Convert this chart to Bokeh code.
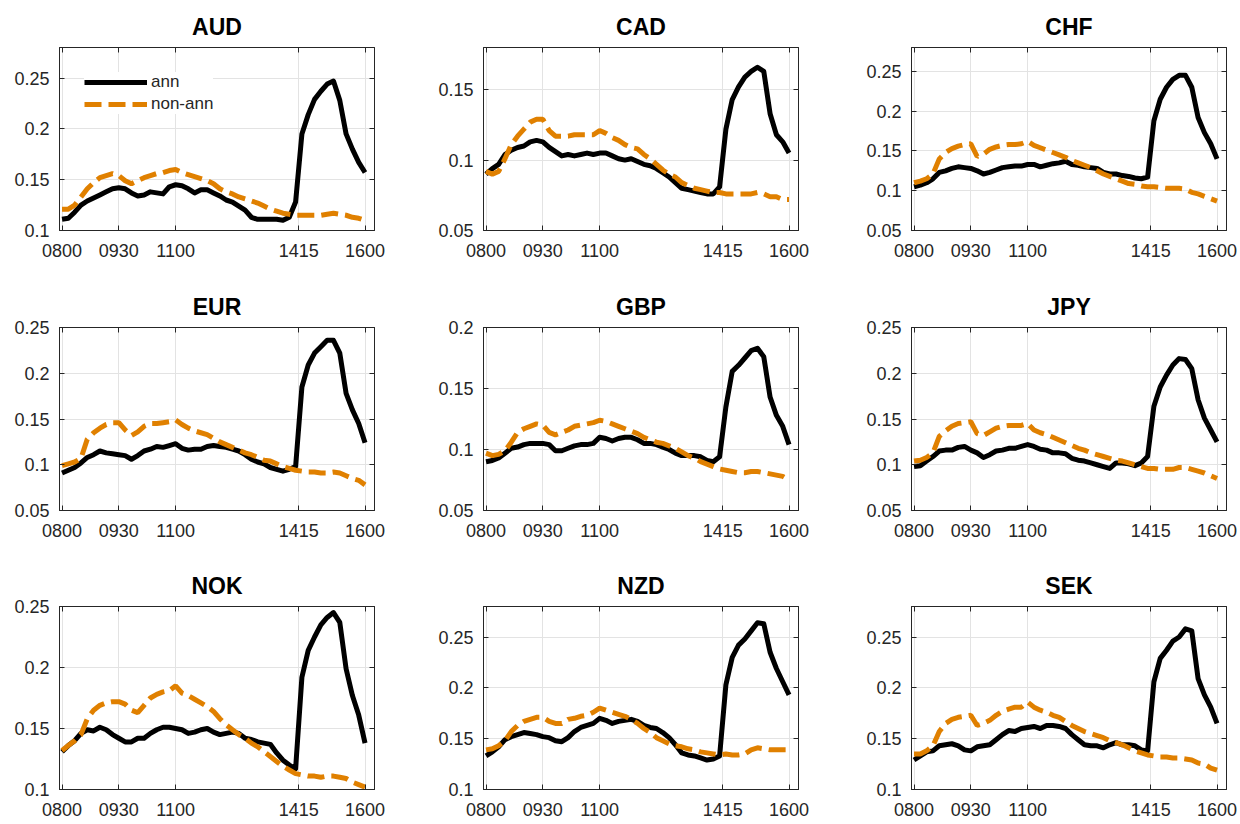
from bokeh.plotting import figure
from bokeh.layouts import row, column
from bokeh.models import FixedTicker, LinearAxis, Range1d, Legend, LegendItem
from bokeh.embed import file_html
from bokeh.resources import INLINE

# ---------------- data ----------------
TIMES = [480, 490, 500, 510, 520, 530, 540, 550, 560, 570, 580, 590, 600, 610, 620,
         630, 640, 650, 660, 670, 680, 690, 700, 710, 720, 730, 740, 750, 760, 770,
         780, 790, 800, 810, 820, 830, 840, 850, 860, 870, 880, 890, 900, 910, 920,
         930, 940, 950, 960]  # minutes after midnight

X_TICKS = [480, 570, 660, 855, 960]
X_TICK_LABELS = ["0800", "0930", "1100", "1415", "1600"]

CURRENCIES = ["AUD", "CAD", "CHF", "EUR", "GBP", "JPY", "NOK", "NZD", "SEK"]
Y_MIN = [0.10, 0.05, 0.05, 0.05, 0.05, 0.05, 0.10, 0.10, 0.10]
Y_MAX = [0.28, 0.18, 0.28, 0.25, 0.20, 0.25, 0.25, 0.28, 0.28]
Y_TICK_VALUES = [0.05, 0.1, 0.15, 0.2, 0.25]
Y_TICK_LABELS = ["0.05", "0.1", "0.15", "0.2", "0.25"]

SERIES_LABELS = ["ann", "non-ann"]

AUD_ANN = [0.111, 0.112, 0.118, 0.125, 0.129, 0.132, 0.135, 0.138, 0.141, 0.142, 0.141, 0.137, 0.134, 0.135, 0.138,
           0.137, 0.136, 0.143, 0.145, 0.144, 0.141, 0.137, 0.140, 0.140, 0.137, 0.134, 0.130, 0.128, 0.124, 0.120,
           0.113, 0.111, 0.111, 0.111, 0.111, 0.110, 0.113, 0.128, 0.195, 0.214, 0.229, 0.237, 0.244, 0.247, 0.228,
           0.195, 0.180, 0.167, 0.157]
AUD_NON = [0.121, 0.121, 0.125, 0.133, 0.141, 0.147, 0.152, 0.154, 0.156, 0.154, 0.149, 0.146, 0.149, 0.152, 0.154,
           0.156, 0.157, 0.159, 0.160, 0.157, 0.155, 0.153, 0.151, 0.149, 0.146, 0.141, 0.138, 0.136, 0.133, 0.131,
           0.129, 0.127, 0.124, 0.121, 0.119, 0.117, 0.116, 0.115, 0.115, 0.115, 0.115, 0.115, 0.116, 0.117, 0.116,
           0.115, 0.113, 0.112, 0.110]

CAD_ANN = [0.090, 0.094, 0.097, 0.104, 0.107, 0.109, 0.110, 0.113, 0.114, 0.113, 0.109, 0.106, 0.103, 0.104, 0.103,
           0.104, 0.105, 0.104, 0.105, 0.105, 0.103, 0.101, 0.100, 0.101, 0.099, 0.097, 0.096, 0.094, 0.091, 0.088,
           0.084, 0.080, 0.079, 0.078, 0.077, 0.076, 0.076, 0.081, 0.122, 0.143, 0.152, 0.159, 0.163, 0.166, 0.163,
           0.133, 0.118, 0.113, 0.105]
CAD_NON = [0.092, 0.090, 0.092, 0.101, 0.111, 0.117, 0.122, 0.127, 0.129, 0.129, 0.121, 0.117, 0.117, 0.117, 0.118,
           0.118, 0.118, 0.118, 0.121, 0.119, 0.116, 0.114, 0.111, 0.109, 0.108, 0.104, 0.101, 0.097, 0.093, 0.090,
           0.088, 0.084, 0.082, 0.080, 0.079, 0.078, 0.077, 0.077, 0.076, 0.076, 0.076, 0.076, 0.076, 0.077, 0.076,
           0.074, 0.074, 0.072, 0.072]

CHF_ANN = [0.105, 0.107, 0.110, 0.115, 0.123, 0.125, 0.128, 0.130, 0.129, 0.128, 0.125, 0.121, 0.123, 0.126, 0.129,
           0.130, 0.131, 0.131, 0.133, 0.133, 0.130, 0.132, 0.134, 0.135, 0.137, 0.133, 0.132, 0.130, 0.129, 0.128,
           0.123, 0.121, 0.121, 0.119, 0.118, 0.116, 0.115, 0.117, 0.188, 0.215, 0.230, 0.240, 0.245, 0.245, 0.230,
           0.192, 0.173, 0.159, 0.140]
CHF_NON = [0.110, 0.112, 0.115, 0.121, 0.140, 0.148, 0.153, 0.156, 0.158, 0.159, 0.143, 0.146, 0.152, 0.155, 0.157,
           0.158, 0.158, 0.159, 0.162, 0.157, 0.154, 0.151, 0.148, 0.145, 0.142, 0.138, 0.135, 0.132, 0.129, 0.125,
           0.121, 0.118, 0.115, 0.112, 0.109, 0.108, 0.106, 0.105, 0.105, 0.104, 0.103, 0.103, 0.103, 0.102, 0.098,
           0.096, 0.093, 0.090, 0.087]

EUR_ANN = [0.091, 0.094, 0.097, 0.102, 0.108, 0.111, 0.115, 0.113, 0.112, 0.111, 0.110, 0.106, 0.110, 0.115, 0.117,
           0.120, 0.119, 0.121, 0.123, 0.118, 0.116, 0.117, 0.117, 0.120, 0.121, 0.120, 0.119, 0.117, 0.115, 0.111,
           0.106, 0.103, 0.101, 0.097, 0.095, 0.093, 0.095, 0.098, 0.185, 0.209, 0.222, 0.229, 0.236, 0.236, 0.222,
           0.178, 0.160, 0.145, 0.124]
EUR_NON = [0.099, 0.101, 0.103, 0.107, 0.128, 0.135, 0.140, 0.144, 0.146, 0.146, 0.138, 0.132, 0.136, 0.142, 0.145,
           0.145, 0.146, 0.147, 0.149, 0.144, 0.140, 0.137, 0.135, 0.133, 0.129, 0.125, 0.122, 0.119, 0.116, 0.113,
           0.111, 0.108, 0.105, 0.104, 0.101, 0.098, 0.096, 0.094, 0.093, 0.092, 0.092, 0.091, 0.091, 0.092, 0.091,
           0.088, 0.085, 0.083, 0.078]

GBP_ANN = [0.090, 0.091, 0.093, 0.097, 0.101, 0.102, 0.104, 0.105, 0.105, 0.105, 0.104, 0.099, 0.099, 0.101, 0.103,
           0.104, 0.104, 0.105, 0.110, 0.109, 0.107, 0.109, 0.110, 0.110, 0.108, 0.105, 0.105, 0.104, 0.102, 0.100,
           0.097, 0.095, 0.095, 0.095, 0.094, 0.091, 0.090, 0.094, 0.135, 0.164, 0.169, 0.175, 0.181, 0.183, 0.176,
           0.143, 0.128, 0.119, 0.104]
GBP_NON = [0.097, 0.095, 0.096, 0.099, 0.106, 0.114, 0.117, 0.119, 0.121, 0.120, 0.114, 0.112, 0.114, 0.116, 0.119,
           0.120, 0.121, 0.122, 0.124, 0.123, 0.121, 0.119, 0.117, 0.115, 0.113, 0.110, 0.108, 0.106, 0.105, 0.103,
           0.101, 0.098, 0.095, 0.093, 0.090, 0.088, 0.086, 0.084, 0.083, 0.082, 0.081, 0.081, 0.082, 0.082, 0.081,
           0.080, 0.079, 0.078, 0.075]

JPY_ANN = [0.098, 0.099, 0.104, 0.109, 0.115, 0.116, 0.116, 0.119, 0.120, 0.116, 0.113, 0.108, 0.111, 0.115, 0.116,
           0.118, 0.118, 0.120, 0.122, 0.120, 0.117, 0.116, 0.113, 0.113, 0.112, 0.107, 0.105, 0.104, 0.102, 0.100,
           0.098, 0.096, 0.102, 0.102, 0.101, 0.099, 0.102, 0.109, 0.164, 0.185, 0.198, 0.209, 0.216, 0.215, 0.205,
           0.171, 0.151, 0.138, 0.125]
JPY_NON = [0.104, 0.105, 0.108, 0.113, 0.131, 0.137, 0.142, 0.145, 0.146, 0.147, 0.134, 0.132, 0.136, 0.140, 0.142,
           0.143, 0.143, 0.143, 0.145, 0.138, 0.135, 0.133, 0.130, 0.127, 0.124, 0.121, 0.118, 0.116, 0.113, 0.111,
           0.109, 0.107, 0.105, 0.104, 0.102, 0.100, 0.098, 0.096, 0.096, 0.095, 0.095, 0.095, 0.097, 0.097, 0.095,
           0.093, 0.091, 0.088, 0.085]

NOK_ANN = [0.131, 0.136, 0.140, 0.146, 0.149, 0.148, 0.151, 0.149, 0.145, 0.142, 0.139, 0.139, 0.142, 0.142, 0.146,
           0.149, 0.151, 0.151, 0.150, 0.149, 0.146, 0.147, 0.149, 0.150, 0.147, 0.145, 0.146, 0.147, 0.146, 0.142,
           0.141, 0.139, 0.138, 0.137, 0.130, 0.124, 0.120, 0.117, 0.192, 0.214, 0.225, 0.235, 0.241, 0.245, 0.237,
           0.199, 0.177, 0.161, 0.138]
NOK_NON = [0.132, 0.136, 0.140, 0.145, 0.158, 0.165, 0.169, 0.171, 0.172, 0.172, 0.170, 0.165, 0.163, 0.169, 0.175,
           0.178, 0.180, 0.181, 0.185, 0.179, 0.177, 0.174, 0.171, 0.168, 0.164, 0.158, 0.153, 0.149, 0.145, 0.142,
           0.138, 0.135, 0.131, 0.127, 0.123, 0.119, 0.116, 0.113, 0.112, 0.111, 0.111, 0.110, 0.111, 0.111, 0.110,
           0.109, 0.106, 0.104, 0.102]

NZD_ANN = [0.133, 0.137, 0.142, 0.149, 0.152, 0.154, 0.156, 0.155, 0.154, 0.152, 0.151, 0.148, 0.147, 0.151, 0.157,
           0.161, 0.163, 0.165, 0.170, 0.168, 0.165, 0.167, 0.168, 0.169, 0.167, 0.163, 0.161, 0.160, 0.156, 0.151,
           0.144, 0.136, 0.134, 0.133, 0.131, 0.129, 0.130, 0.133, 0.203, 0.230, 0.242, 0.248, 0.256, 0.264, 0.263,
           0.235, 0.219, 0.206, 0.193]
NZD_NON = [0.139, 0.140, 0.143, 0.148, 0.157, 0.163, 0.167, 0.169, 0.171, 0.171, 0.167, 0.165, 0.165, 0.169, 0.170,
           0.172, 0.173, 0.176, 0.180, 0.178, 0.176, 0.174, 0.172, 0.169, 0.165, 0.160, 0.156, 0.151, 0.148, 0.145,
           0.143, 0.142, 0.140, 0.139, 0.137, 0.136, 0.135, 0.134, 0.135, 0.134, 0.134, 0.135, 0.139, 0.141, 0.140,
           0.139, 0.139, 0.139, 0.139]

SEK_ANN = [0.129, 0.133, 0.137, 0.138, 0.143, 0.144, 0.145, 0.143, 0.139, 0.138, 0.142, 0.143, 0.144, 0.149, 0.154,
           0.158, 0.157, 0.160, 0.161, 0.162, 0.160, 0.163, 0.163, 0.162, 0.160, 0.154, 0.149, 0.144, 0.143, 0.143,
           0.141, 0.144, 0.146, 0.144, 0.144, 0.143, 0.139, 0.138, 0.206, 0.229, 0.237, 0.246, 0.250, 0.258, 0.256,
           0.209, 0.193, 0.181, 0.165]
SEK_NON = [0.135, 0.135, 0.138, 0.143, 0.157, 0.165, 0.169, 0.171, 0.172, 0.173, 0.163, 0.165, 0.168, 0.173, 0.177,
           0.179, 0.181, 0.181, 0.186, 0.181, 0.178, 0.176, 0.173, 0.171, 0.167, 0.163, 0.160, 0.157, 0.155, 0.153,
           0.151, 0.148, 0.146, 0.144, 0.141, 0.138, 0.136, 0.134, 0.133, 0.132, 0.132, 0.131, 0.131, 0.130, 0.129,
           0.126, 0.125, 0.121, 0.119]

ANN_SERIES = [AUD_ANN, CAD_ANN, CHF_ANN, EUR_ANN, GBP_ANN, JPY_ANN, NOK_ANN, NZD_ANN, SEK_ANN]
NON_SERIES = [AUD_NON, CAD_NON, CHF_NON, EUR_NON, GBP_NON, JPY_NON, NOK_NON, NZD_NON, SEK_NON]

# ---------------- style / layout ----------------
FONT = "Liberation Sans"
AX_COLOR = "#262626"
GRID_COLOR = "#e3e3e3"
ANN_COLOR = "#000000"
NON_COLOR = "#E08000"
FRAME_W, FRAME_H = 315, 183
COL_BORDERS = [(59, 56), (53, 60), (53, 14)]
ROW_BORDERS = [(47, 50), (47, 49), (47, 35)]
X_START, X_END = 476, 975


def style_axis(ax, ticker, labels=True):
    ax.ticker = ticker
    ax.axis_line_color = AX_COLOR
    ax.axis_line_width = 1
    ax.major_tick_line_color = AX_COLOR
    ax.major_tick_in = 5
    ax.major_tick_out = 0
    ax.minor_tick_line_color = None
    if labels:
        ax.major_label_text_font = FONT
        ax.major_label_text_font_size = "18px"
        ax.major_label_text_color = AX_COLOR
    else:
        ax.major_label_text_color = None
        ax.major_label_text_alpha = 0
        ax.major_label_standoff = 0


def make_panel(i):
    r, c = divmod(i, 3)
    bl, br = COL_BORDERS[c]
    bt, bb = ROW_BORDERS[r]
    ylo, yhi = Y_MIN[i], Y_MAX[i]
    p = figure(width=bl + FRAME_W + br, height=bt + FRAME_H + bb,
               x_range=Range1d(X_START, X_END), y_range=Range1d(ylo, yhi),
               output_backend="svg", toolbar_location=None,
               min_border_left=bl, min_border_right=br,
               min_border_top=bt, min_border_bottom=bb)
    p.title.text = CURRENCIES[i]
    p.title.align = "center"
    p.title.text_font = FONT
    p.title.text_font_size = "23px"
    p.title.text_font_style = "bold"
    p.title.text_color = "#000000"
    p.title.standoff = 15

    yt = [v for v in Y_TICK_VALUES if ylo - 1e-9 <= v <= yhi + 1e-9]
    ylab = {v: l for v, l in zip(Y_TICK_VALUES, Y_TICK_LABELS) if v in yt}

    style_axis(p.xaxis[0], FixedTicker(ticks=X_TICKS))
    p.xaxis[0].major_label_overrides = dict(zip(X_TICKS, X_TICK_LABELS))
    p.xaxis[0].major_label_standoff = 13
    style_axis(p.yaxis[0], FixedTicker(ticks=yt))
    p.yaxis[0].major_label_overrides = ylab
    p.yaxis[0].major_label_standoff = 10

    top = LinearAxis()
    style_axis(top, FixedTicker(ticks=X_TICKS), labels=False)
    p.add_layout(top, "above")
    right = LinearAxis()
    style_axis(right, FixedTicker(ticks=yt), labels=False)
    p.add_layout(right, "right")

    p.xgrid.ticker = FixedTicker(ticks=X_TICKS)
    p.ygrid.ticker = FixedTicker(ticks=yt)
    p.xgrid.grid_line_color = GRID_COLOR
    p.ygrid.grid_line_color = GRID_COLOR
    p.outline_line_color = AX_COLOR
    p.background_fill_color = "white"
    p.border_fill_color = "white"

    r1 = p.line(TIMES, ANN_SERIES[i], line_color=ANN_COLOR, line_width=5,
                line_join="round")
    r2 = p.line(TIMES, NON_SERIES[i], line_color=NON_COLOR, line_width=5,
                line_dash="17 7")

    if i == 0:
        leg = Legend(items=[LegendItem(label=SERIES_LABELS[0], renderers=[r1]),
                            LegendItem(label=SERIES_LABELS[1], renderers=[r2])],
                     location="top_left")
        leg.label_text_font = FONT
        leg.label_text_font_size = "17px"
        leg.label_text_color = AX_COLOR
        leg.glyph_width = 63
        leg.glyph_height = 20
        leg.label_height = 20
        leg.label_standoff = 4
        leg.spacing = 2
        leg.padding = 9
        leg.margin = 25
        leg.border_line_color = None
        leg.background_fill_color = "white"
        leg.background_fill_alpha = 1.0
        p.add_layout(leg)
    return p


panels = [make_panel(i) for i in range(9)]
layout = column(row(*panels[0:3]), row(*panels[3:6]), row(*panels[6:9]))

open("out.html", "w").write(file_html(layout, INLINE))
